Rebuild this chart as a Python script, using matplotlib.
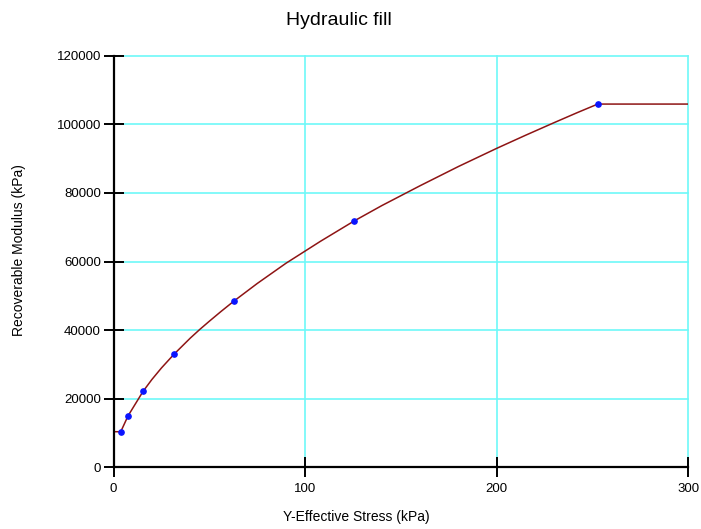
import matplotlib
matplotlib.use("Agg")
import matplotlib.pyplot as plt
from matplotlib.ticker import FuncFormatter

plt.rcParams['font.family'] = ['Liberation Sans', 'DejaVu Sans']

# measured points
stress = [3.75, 7.6, 15.4, 31.6, 62.9, 125.5, 252.7]
modulus = [10380, 15040, 22150, 33000, 48500, 71800, 105900]

# fitted curve
curve_x = [0, 3.75, 7.6, 15.4, 20, 25, 31.6, 40, 45, 50, 56, 62.9, 75, 90, 108,
           125.5, 140, 160, 180, 200, 215, 230, 242, 252.7, 300]
curve_y = [10380, 10380, 15040, 22150, 25600, 28970, 33000, 37650, 40200, 42600,
           45400, 48500, 53600, 59500, 65900, 71800, 76300, 82100, 87700, 93000,
           96800, 100500, 103400, 105900, 105900]

xticks = [0, 100, 200, 300]
yticks = [0, 20000, 40000, 60000, 80000, 100000, 120000]

fig = plt.figure(figsize=(7.01, 5.29), dpi=100)
ax = fig.add_axes([0.162, 0.1166, 0.820, 0.7781])

ax.plot(curve_x, curve_y, color="#8e1414", lw=1.1, zorder=3)
ax.plot(stress, modulus, 'o', color="#0a14ff", markersize=3.8, zorder=4)

ax.set_xlim(0, 300)
ax.set_ylim(0, 120000)
ax.set_xticks(xticks)
ax.set_yticks(yticks)
ax.yaxis.set_major_formatter(FuncFormatter(lambda v, p: f"{int(v)}"))

ax.grid(True, color="#6ef8f8", lw=1.2)
for gl in ax.get_xgridlines() + ax.get_ygridlines():
    gl.set_clip_on(False)
ax.set_axisbelow(True)

for s in ["top", "right"]:
    ax.spines[s].set_visible(False)
for s in ["left", "bottom"]:
    ax.spines[s].set_linewidth(1.6)
    ax.spines[s].set_zorder(5)

ax.tick_params(direction="inout", length=14, width=1.4, labelsize=9.5, pad=2)
ax.tick_params(axis="x", pad=4)

fig.text(0.484, 0.962, "Hydraulic fill", fontsize=14, ha="center", va="center")
fig.text(0.509, 0.023, "Y-Effective Stress (kPa)", fontsize=10, ha="center", va="center")
fig.text(0.027, 0.527, "Recoverable Modulus (kPa)", fontsize=10, ha="center", va="center", rotation=90)

fig.savefig("out.png", dpi=100)
